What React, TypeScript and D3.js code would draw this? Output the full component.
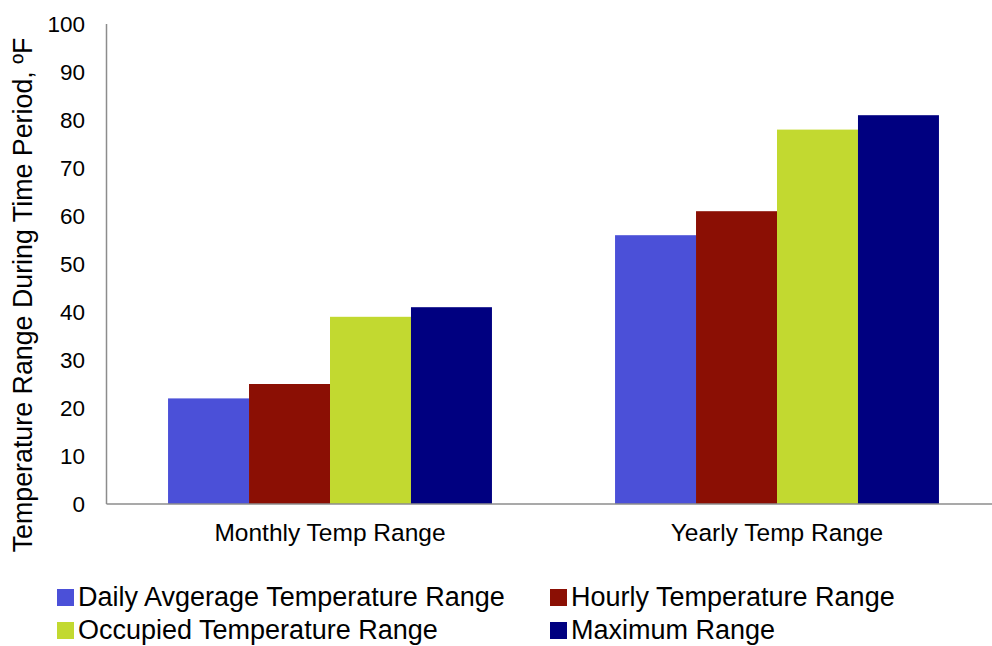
import React from "react";
import * as d3 from "d3";

const categories = ["Monthly Temp Range", "Yearly Temp Range"];
const seriesNames = [
  "Daily Avgerage Temperature Range",
  "Hourly Temperature Range",
  "Occupied Temperature Range",
  "Maximum Range",
];
const dailyAvg = [22, 56];
const hourly = [25, 61];
const occupied = [39, 78];
const maximum = [41, 81];
const yTicks = [0, 10, 20, 30, 40, 50, 60, 70, 80, 90, 100];
const colors = ["#4B50D8", "#8B0F04", "#C2D930", "#000080"];
const yLabel = "Temperature Range During Time Period, ºF";

const W = 992;
const H = 646;
const left = 106.5;
const right = 1000.5;
const top = 24;
const bottom = 504;
const FONT = "'Liberation Sans', Arial, sans-serif";

export default function App() {
  const series = [dailyAvg, hourly, occupied, maximum];
  const x0 = d3.scaleBand().domain(categories).range([left, right]).paddingInner(0).paddingOuter(0);
  const inner = d3
    .scaleBand()
    .domain(seriesNames)
    .range([0, x0.bandwidth()])
    .paddingOuter(0.76)
    .paddingInner(0);
  const y = d3.scaleLinear().domain([0, 100]).range([bottom, top]);

  const legendPos = [
    { x: 57, y: 589 },
    { x: 550, y: 589 },
    { x: 57, y: 622 },
    { x: 550, y: 622 },
  ];

  return (
    <svg width={W} height={H} style={{ position: "absolute", left: 0, top: 0, background: "#fff" }}>
      {categories.map((c, ci) =>
        series.map((s, si) => (
          <rect
            key={c + si}
            x={(x0(c) as number) + (inner(seriesNames[si]) as number)}
            y={y(s[ci])}
            width={inner.bandwidth()}
            height={y(0) - y(s[ci])}
            fill={colors[si]}
          />
        ))
      )}
      <line x1={left} x2={left} y1={top} y2={bottom} stroke="#8c8c8c" strokeWidth={1.5} />
      <line x1={left} x2={right} y1={bottom} y2={bottom} stroke="#8c8c8c" strokeWidth={1.5} />
      {yTicks.map((t) => (
        <text
          key={t}
          x={85}
          y={y(t)}
          dy="0.36em"
          textAnchor="end"
          fontFamily={FONT}
          fontSize={22.5}
          fill="#000"
        >
          {t}
        </text>
      ))}
      {categories.map((c) => (
        <text
          key={c}
          x={(x0(c) as number) + x0.bandwidth() / 2}
          y={541}
          textAnchor="middle"
          fontFamily={FONT}
          fontSize={24.5}
          fill="#000"
        >
          {c}
        </text>
      ))}
      <text
        transform={`translate(32,295) rotate(-90)`}
        textAnchor="middle"
        fontFamily={FONT}
        fontSize={26.8}
        fill="#000"
      >
        {yLabel}
      </text>
      {seriesNames.map((n, i) => (
        <g key={n} transform={`translate(${legendPos[i].x},${legendPos[i].y})`}>
          <rect x={0} y={0} width={17} height={17} fill={colors[i]} />
          <text x={21} y={17} fontFamily={FONT} fontSize={27} fill="#000">
            {n}
          </text>
        </g>
      ))}
    </svg>
  );
}
